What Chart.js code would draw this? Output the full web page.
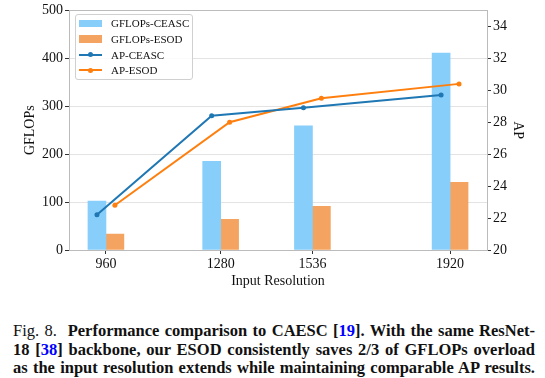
<!DOCTYPE html>
<html><head><meta charset="utf-8">
<script src="https://cdn.jsdelivr.net/npm/chart.js@4.4.1/dist/chart.umd.min.js"></script>
<style>
body{margin:0;background:#fff;}
#wrap{position:relative;width:545px;height:378px;overflow:hidden;font-family:"Liberation Serif","Times New Roman",serif;color:#111;}
#c{position:absolute;left:0;top:0;}
#legendBox{position:absolute;left:75px;top:14px;width:116px;height:64px;border:1px solid #d0d0d0;border-radius:3px;background:rgba(255,255,255,0.85);}
.lg{position:absolute;font-size:11px;line-height:14px;height:14px;white-space:nowrap;}
.cap{position:absolute;left:13px;width:522px;font-size:16.5px;line-height:19px;text-align:justify;text-align-last:justify;white-space:nowrap;color:#111;font-family:"Liberation Serif","Times New Roman",serif;}
.ref{color:#0000ff;}
</style></head>
<body>
<div id="wrap">
<canvas id="c" width="545" height="290"></canvas>
<div id="legendBox"></div>
<div class="cap" style="top:321px">Fig. 8.&nbsp; <b>Performance comparison to CAESC [<span class="ref">19</span>]. With the same ResNet-</b></div>
<div class="cap" style="top:339.6px"><b>18 [<span class="ref">38</span>] backbone, our ESOD consistently saves 2/3 of GFLOPs overload</b></div>
<div class="cap" style="top:358.2px"><b>as the input resolution extends while maintaining comparable AP results.</b></div>
</div>
<script>
const resolutions = [960, 1280, 1536, 1920];
const gflopsCEASC = [102, 185, 259, 411];
const gflopsESOD  = [33, 64, 91, 141];
const apCEASC = [22.2, 28.4, 28.9, 29.7];
const apESOD  = [22.8, 28.0, 29.5, 30.4];
const gflopsTicks = [0, 100, 200, 300, 400, 500];
const apTicks = [20, 22, 24, 26, 28, 30, 32, 34];

const FAM = '"Liberation Serif", "Times New Roman", serif';
const BAR_HALF = 25; // half bar width in resolution units
const pts = (xs, ys, d) => xs.map((x, i) => ({x: x + d, y: ys[i]}));

const C_BLUE_BAR = '#87cefa', C_ORANGE_BAR = '#f4a460';
const C_BLUE = '#1f77b4', C_ORANGE = '#ff7f0e';

const topBorder = {
  id: 'topBorder',
  afterDraw(chart) {
    const {ctx, chartArea: a} = chart;
    ctx.save();
    ctx.strokeStyle = '#bbbbbb';
    ctx.lineWidth = 1;
    ctx.beginPath();
    ctx.moveTo(a.left, Math.round(a.top) + 0.5);
    ctx.lineTo(a.right, Math.round(a.top) + 0.5);
    ctx.stroke();
    ctx.restore();
  }
};

const tickFont = {family: FAM, size: 14};
const chart = new Chart(document.getElementById('c'), {
  type: 'bar',
  data: {
    datasets: [
      {type: 'line', label: 'AP-CEASC', data: pts(resolutions, apCEASC, -BAR_HALF), yAxisID: 'y2',
       borderColor: C_BLUE, backgroundColor: C_BLUE, borderWidth: 2, pointRadius: 2.5,
       pointBorderWidth: 0, pointBackgroundColor: C_BLUE, order: 0},
      {type: 'line', label: 'AP-ESOD', data: pts(resolutions, apESOD, BAR_HALF), yAxisID: 'y2',
       borderColor: C_ORANGE, backgroundColor: C_ORANGE, borderWidth: 2, pointRadius: 2.5,
       pointBorderWidth: 0, pointBackgroundColor: C_ORANGE, order: 0},
      {type: 'bar', label: 'GFLOPs-CEASC', data: pts(resolutions, gflopsCEASC, -BAR_HALF), yAxisID: 'y',
       backgroundColor: C_BLUE_BAR, barThickness: 18, grouped: false, order: 1},
      {type: 'bar', label: 'GFLOPs-ESOD', data: pts(resolutions, gflopsESOD, BAR_HALF), yAxisID: 'y',
       backgroundColor: C_ORANGE_BAR, barThickness: 18, grouped: false, order: 1}
    ]
  },
  options: {
    responsive: false, animation: false,
    layout: {padding: {left: 0, right: 0, top: 9, bottom: 0}},
    plugins: {legend: {display: false}, tooltip: {enabled: false}},
    scales: {
      x: {
        type: 'linear', min: 857, max: 2023, offset: false,
        afterBuildTicks: s => { s.ticks = resolutions.map(v => ({value: v})); },
        afterFit: s => { s.height = 40; },
        ticks: {callback: v => String(v), font: tickFont, color: '#111', padding: 2, maxRotation: 0, autoSkip: false},
        grid: {drawOnChartArea: false, tickLength: 4, tickColor: '#333', offset: false},
        border: {color: '#bbbbbb'},
        title: {display: true, text: 'Input Resolution', font: tickFont, color: '#111', padding: {top: 0, bottom: 0.5}}
      },
      y: {
        type: 'linear', position: 'left', min: 0, max: 500,
        afterBuildTicks: s => { s.ticks = gflopsTicks.map(v => ({value: v})); },
        afterFit: s => { s.width = 69; },
        ticks: {font: tickFont, color: '#111', padding: 2},
        grid: {color: '#e3e3e3', tickColor: '#333', tickLength: 4},
        border: {color: '#bbbbbb'},
        title: {display: true, text: 'GFLOPs', font: tickFont, color: '#111', padding: {top: 22, bottom: 0}}
      },
      y2: {
        type: 'linear', position: 'right', min: 20, max: 35,
        afterBuildTicks: s => { s.ticks = apTicks.map(v => ({value: v})); },
        afterFit: s => { s.width = 58; },
        ticks: {font: tickFont, color: '#111', padding: 2},
        grid: {drawOnChartArea: false, tickColor: '#333', tickLength: 4},
        border: {color: '#bbbbbb'},
        title: {display: true, text: 'AP', font: tickFont, color: '#111', padding: {top: 18.6, bottom: 0}}
      }
    }
  },
  plugins: [topBorder]
});

// HTML legend built from the chart's datasets, in the reference order
const wrap = document.getElementById('wrap');
const order = ['GFLOPs-CEASC', 'GFLOPs-ESOD', 'AP-CEASC', 'AP-ESOD'];
const rowCY = [23.3, 39, 54.6, 70.2];
order.forEach((lbl, i) => {
  const ds = chart.data.datasets.find(d => d.label === lbl);
  const cy = rowCY[i];
  if (ds.type === 'bar') {
    const p = document.createElement('div');
    p.style.cssText = `position:absolute;left:79px;top:${cy - 3.75}px;width:23px;height:7.5px;background:${ds.backgroundColor};`;
    wrap.appendChild(p);
  } else {
    const l = document.createElement('div');
    l.style.cssText = `position:absolute;left:79px;top:${cy - 1}px;width:23px;height:2px;background:${ds.borderColor};`;
    wrap.appendChild(l);
    const m = document.createElement('div');
    m.style.cssText = `position:absolute;left:${90.5 - 2.5}px;top:${cy - 2.5}px;width:5px;height:5px;border-radius:50%;background:${ds.borderColor};`;
    wrap.appendChild(m);
  }
  const t = document.createElement('div');
  t.className = 'lg';
  t.style.left = '111px';
  t.style.top = (cy - 7) + 'px';
  t.textContent = lbl;
  wrap.appendChild(t);
});
</script>
</body></html>
